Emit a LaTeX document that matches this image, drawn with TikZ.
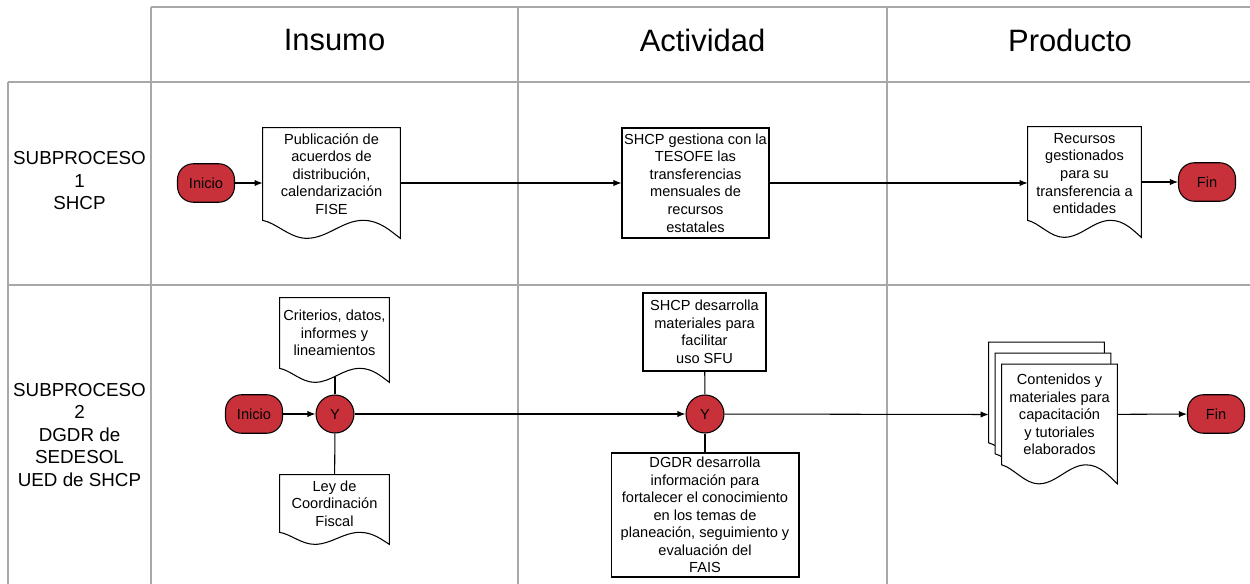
\documentclass[tikz,border=0pt]{standalone}
\usepackage{fontspec}
\setmainfont{Liberation Sans}
\usepackage{xcolor}
\usepackage{tikz}
\usetikzlibrary{arrows.meta, positioning, calc}

\definecolor{termred}{RGB}{200,48,58}
\definecolor{lanegray}{RGB}{168,168,168}

\pgfdeclarelayer{docs}
\pgfsetlayers{docs,main}

% document outline with a wavy bottom, hung under node #2 (wave depth #3)
\newcommand{\docshape}[3][0,0]{%
  \begin{pgfonlayer}{docs}
  \draw[fill=white, line width=0.6pt] ($(#2.north west)+(#1)$) -- ($(#2.south west)+(#1)$)
    .. controls ($(#2.south west)!0.10!(#2.south east)+(#1)+(0,0.15*#3)$)
            and ($(#2.south west)!0.20!(#2.south east)+(#1)+(0,#3)$)
    .. ($(#2.south west)!0.32!(#2.south east)+(#1)+(0,#3)$)
    .. controls ($(#2.south west)!0.47!(#2.south east)+(#1)+(0,#3)$)
            and ($(#2.south west)!0.58!(#2.south east)+(#1)$)
    .. ($(#2.south west)!0.73!(#2.south east)+(#1)$)
    .. controls ($(#2.south west)!0.85!(#2.south east)+(#1)$)
            and ($(#2.south west)!0.93!(#2.south east)+(#1)+(0,0.6*#3)$)
    .. ($(#2.south east)+(#1)+(0,#3)$) -- ($(#2.north east)+(#1)$) -- cycle;
  \end{pgfonlayer}
  \coordinate (#2-w) at ($(#2.south)+(#1)+(0,0.6*#3)$);
}

\tikzset{
  lane/.style={draw=lanegray, line width=0.85pt},
  term/.style={draw, line width=0.6pt, fill=termred, rounded corners=9pt,
    minimum width=1.14cm, minimum height=0.77cm, inner sep=0pt},
  andgate/.style={circle, draw, line width=0.6pt, fill=termred,
    minimum size=0.76cm, inner sep=0pt},
  proc/.style={draw, line width=0.6pt, align=center, inner sep=1pt},
  doc/.style={align=center, inner sep=1pt},
  flow/.style={-{Latex[length=4.6pt,width=3.6pt]}, line width=0.6pt},
  link/.style={line width=0.6pt},
  head/.style={font=\fontsize{17.6}{21}\selectfont},
  lanename/.style={align=center, font=\fontsize{10.7}{12.8}\selectfont},
}

\begin{document}
\begin{tikzpicture}[x=0.02cm, y=-0.02cm, font=\fontsize{8.3}{10}\selectfont]
  \useasboundingbox (0,0) rectangle (1250,584);

  % swimlanes
  \draw[lane] (151,7) -- (1250,7);
  \draw[lane] (8,82) -- (1250,82);
  \draw[lane] (8,285) -- (1250,285);
  \draw[lane] (8,82) -- (8,584);
  \draw[lane] (151,7) -- (151,584);
  \draw[lane] (518,7) -- (518,584);
  \draw[lane] (887,7) -- (887,584);

  \node[head] (hin) at (334.5,40) {Insumo};
  \node[head] (hact) at (702.5,40) {Actividad};
  \node[head] (hprod) at (1070,40) {Producto};
  \node[lanename] (lane1) at (79.5,181) {SUBPROCESO\\1\\SHCP};
  \node[lanename] (lane2) at (79.5,435) {SUBPROCESO\\2\\DGDR de\\SEDESOL\\UED de SHCP};

  % subproceso 1
  \node[term] (ini1) at (206,183) {Inicio};
  \node[doc, minimum width=2.74cm, minimum height=1.84cm] (doc1) at (331.5,174)
    {Publicación de\\acuerdos de\\distribución,\\calendarización\\FISE};
  \node[proc, minimum width=2.94cm, minimum height=2.2cm] (act1) at (695.5,183)
    {SHCP gestiona con la\\TESOFE las\\transferencias\\mensuales de\\recursos\\estatales};
  \node[doc, minimum width=2.26cm, minimum height=1.86cm] (prod1) at (1084.5,173.5)
    {Recursos\\gestionados\\para su\\transferencia a\\entidades};
  \node[term] (fin1) at (1207,182) {Fin};
  \docshape{doc1}{18}
  \docshape{prod1}{17}

  \draw[flow] (ini1) -- (ini1 -| doc1.west);
  \draw[flow] (doc1.east |- act1) -- (act1);
  \draw[flow] (act1) -- (act1 -| prod1.west);
  \draw[flow] (prod1.east |- fin1) -- (fin1);

  % subproceso 2
  \node[term] (ini2) at (254,414) {Inicio};
  \node[andgate] (y1) at (335,414) {Y};
  \node[doc, minimum width=2.18cm, minimum height=1.4cm] (crit) at (334.5,333)
    {Criterios, datos,\\informes y\\lineamientos};
  \node[doc, minimum width=2.18cm, minimum height=1.14cm] (ley) at (334.5,503.5)
    {Ley de\\Coordinación\\Fiscal};
  \node[andgate] (y2) at (705,414) {Y};
  \node[proc, minimum width=2.46cm, minimum height=1.56cm] (shcp2) at (704.5,332)
    {SHCP desarrolla\\materiales para\\facilitar\\uso SFU};
  \node[proc, minimum width=3.76cm, minimum height=2.48cm] (dgdr) at (705,515)
    {DGDR desarrolla\\información para\\fortalecer el conocimiento\\en los temas de\\planeación, seguimiento y\\evaluación del\\FAIS};
  \node[doc, minimum width=2.3cm, minimum height=2cm] (prod2) at (1059.5,414.5)
    {Contenidos y\\materiales para\\capacitación\\y tutoriales\\elaborados};
  \node[term] (fin2) at (1216,414) {Fin};
  \docshape{crit}{14}
  \docshape{ley}{12}
  \docshape[-13,-22]{prod2}{19}
  \docshape[-6.5,-11]{prod2}{19}
  \docshape{prod2}{19}
  \coordinate (prod2in) at ($(prod2.west)+(-13,0)$);

  \draw[flow] (ini2) -- (y1);
  \draw[link] (y1) -- (y1 |- crit-w);
  \draw[link] (y1) -- (ley);
  \draw[flow] (y1) -- (y2);
  \draw[link] (shcp2) -- (y2);
  \draw[link] (y2) -- (dgdr);
  \draw[flow] (y2) -- (prod2in);
  \draw[flow] (prod2) -- (fin2);
\end{tikzpicture}
\end{document}
